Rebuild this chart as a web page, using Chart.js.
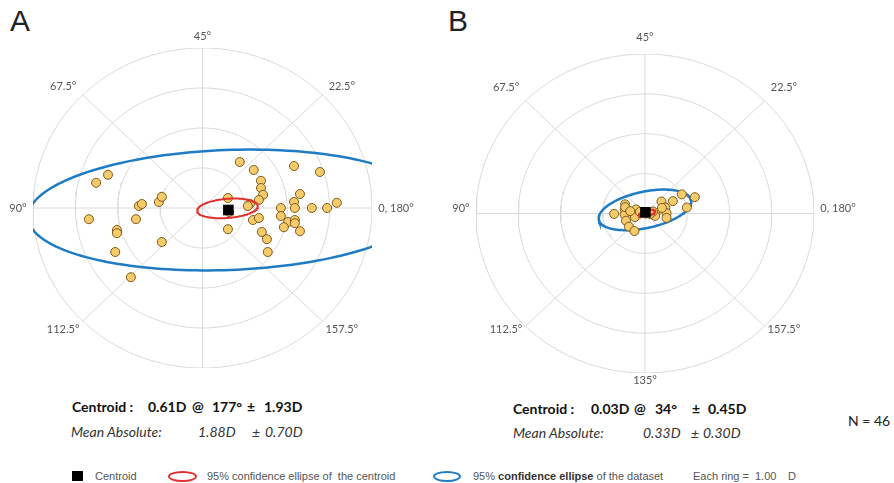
<!DOCTYPE html>
<html>
<head>
<meta charset="utf-8">
<script src="https://cdn.jsdelivr.net/npm/chart.js@4/dist/chart.umd.min.js"></script>
<style>
  body { margin: 0; background: #fff; width: 894px; height: 483px; position: relative; overflow: hidden; font-family: Lato, sans-serif; }
  canvas { position: absolute; }
  .t { position: absolute; white-space: pre; line-height: 16px; }
  .b { font-weight: bold; font-size: 14px; color: #111; }
  .i { font-style: italic; font-size: 14px; color: #333; }
  .lg { font-family: "Liberation Sans Narrow", "Liberation Sans", sans-serif; font-size: 11px; color: #555; }
  .panel { position: absolute; font-family: "Liberation Sans Narrow", sans-serif; font-size: 30px; line-height: 30px; color: #222; }
  .ell { position: absolute; border-radius: 50%; box-sizing: border-box; }
</style>
</head>
<body>
<div class="panel" style="left:10px;top:6px">A</div>
<div class="panel" style="left:448px;top:6px">B</div>
<canvas id="chartA" width="440" height="390" style="left:0;top:0"></canvas>
<canvas id="chartB" width="454" height="400" style="left:440px;top:0"></canvas>

<div class="t b" style="left:72px;top:399px">Centroid :</div>
<div class="t b" style="left:148px;top:399px">0.61D</div>
<div class="t b" style="left:192px;top:399px">@</div>
<div class="t b" style="left:212px;top:399px">177°</div>
<div class="t b" style="left:247px;top:399px">±</div>
<div class="t b" style="left:264px;top:399px">1.93D</div>
<div class="t i" style="left:71px;top:424px">Mean Absolute:</div>
<div class="t i" style="left:198px;top:424px">1.88D</div>
<div class="t i" style="left:252px;top:424px">±</div>
<div class="t i" style="left:265px;top:424px">0.70D</div>

<div class="t b" style="left:513px;top:401px">Centroid :</div>
<div class="t b" style="left:591px;top:401px">0.03D</div>
<div class="t b" style="left:634px;top:401px">@</div>
<div class="t b" style="left:655px;top:401px">34°</div>
<div class="t b" style="left:692px;top:401px">±</div>
<div class="t b" style="left:708px;top:401px">0.45D</div>
<div class="t i" style="left:513px;top:425px">Mean Absolute:</div>
<div class="t i" style="left:643px;top:425px">0.33D</div>
<div class="t i" style="left:691px;top:425px">±</div>
<div class="t i" style="left:703px;top:425px">0.30D</div>
<div class="t" style="left:848px;top:413px;font-size:14px;color:#222">N = 46</div>

<div style="position:absolute;left:72px;top:471px;width:11px;height:10px;background:#000"></div>
<div class="t lg" style="left:95px;top:468px">Centroid</div>
<div class="ell" style="left:168px;top:471px;width:29px;height:11px;border:2px solid #e0312e"></div>
<div class="t lg" style="left:207px;top:468px">95% confidence ellipse of  the centroid</div>
<div class="ell" style="left:433px;top:471px;width:28px;height:11px;border:2px solid #1f7cc4"></div>
<div class="t lg" style="left:473px;top:468px">95% <b style="color:#333">confidence ellipse</b> of the dataset</div>
<div class="t lg" style="left:693px;top:468px">Each ring =</div>
<div class="t lg" style="left:755px;top:468px">1.00</div>
<div class="t lg" style="left:788px;top:468px">D</div>

<script>
// grid: each ring = 1.00 D, spokes every 45° of the double-angle plot
const ringRadii = [1, 2, 3, 4];
const spokeAngles = [0, 45, 90, 135, 180, 225, 270, 315];
const angleLabels = ['0, 180°', '22.5°', '45°', '67.5°', '90°', '112.5°', '135°', '157.5°'];

// panel A data (D, double-angle x/y)
const pointsAx = [0.88, 1.21, 2.16, 2.77, 1.38, 1.38, 1.43, 1.33, 2.30, 2.16, 0.60, 1.12, 1.07, 1.85, 2.18, 2.58, 2.94, 3.17, 1.19, 1.33, 1.85, 2.02, 1.92, 2.18, 2.18, 2.30, 0.60, 1.40, 1.52, 1.54, -2.51, -2.23, -2.68, -1.57, -1.50, -1.43, -1.03, -0.96, -2.02, -2.02, -2.06, -0.96, -1.69, 0.63];
const pointsAy = [1.15, 0.95, 1.05, 0.90, 0.68, 0.50, 0.33, 0.20, 0.35, 0.15, 0.25, 0.10, 0.05, 0, 0, 0, 0, 0.13, -0.30, -0.25, -0.20, -0.35, -0.48, -0.30, -0.38, -0.58, -0.53, -0.60, -0.78, -1.10, 0.63, 0.83, -0.28, -0.28, 0.05, 0.10, 0.15, 0.28, -0.55, -0.63, -1.10, -0.85, -1.73, -0.10];
const centroidA = [0.61, -0.05];
// ellipse: [cx, cy, semi-major, semi-minor, tilt deg]
const centroidEllipseA = [0.59, -0.01, 0.72, 0.24, 5];
const datasetEllipseA = [0.60, -0.05, 4.72, 1.5, 2.3];

// panel B data
const pointsBx = [0.87, 1.18, 0.66, 0.39, 0.48, 0.99, 0.51, 0.51, 0.25, 0.24, 0.19, -0.21, -0.24, -0.47, -0.48, -0.48, -0.73, -0.45, -0.38, -0.25, 0.02, -0.12, 0.12, -0.47, -0.35, 0.40];
const pointsBy = [0.48, 0.41, 0.31, 0.30, 0.15, 0.15, 0.01, -0.11, 0.01, -0.06, 0.05, 0.10, -0.09, 0.23, 0.10, -0.03, -0.01, -0.18, -0.33, -0.44, 0.0, 0.04, -0.01, 0.16, 0.06, 0.14];
const centroidB = [0.01, 0.03];
const centroidEllipseB = [0.05, 0.01, 0.20, 0.07, 15];
const datasetEllipseB = [0.0, 0.09, 1.12, 0.455, 13];

const rad = d => d * Math.PI / 180;

function ellipsePts(e) {
    const [cx, cy, a, b, tilt] = e;
    const p = rad(tilt), pts = [];
    for (let k = 0; k <= 180; k++) {
        const t = k / 180 * 2 * Math.PI;
        pts.push({
            x: cx + a * Math.cos(t) * Math.cos(p) - b * Math.sin(t) * Math.sin(p),
            y: cy + a * Math.cos(t) * Math.sin(p) + b * Math.sin(t) * Math.cos(p)
        });
    }
    return pts;
}

function gridSets() {
    const sets = [];
    ringRadii.forEach(r => sets.push({ type: 'scatter', data: ellipsePts([0, 0, r, r, 0]), showLine: true, pointRadius: 0, borderColor: '#d9d9d9', borderWidth: 1, order: 10 }));
    const outer = ringRadii[ringRadii.length - 1];
    spokeAngles.forEach(a => sets.push({ type: 'scatter', data: [{ x: 0, y: 0 }, { x: outer * Math.cos(rad(a)), y: outer * Math.sin(rad(a)) }], showLine: true, pointRadius: 0, borderColor: '#d9d9d9', borderWidth: 1, order: 10 }));
    return sets;
}

const angleLabelPlugin = {
    id: 'angleLabels',
    afterDraw(chart, args, opts) {
        const { ctx, scales: { x, y } } = chart;
        ctx.save();
        ctx.font = '11px Lato';
        ctx.fillStyle = '#555';
        ctx.textBaseline = 'middle';
        spokeAngles.forEach((deg, i) => {
            if (opts.skip && opts.skip.includes(i)) return;
            const c = Math.cos(rad(deg)), s = Math.sin(rad(deg));
            let lx, ly, align = 'center';
            if (Math.abs(s) < 0.01) { lx = 4.15 * Math.sign(c); ly = 0; align = c > 0 ? 'left' : 'right'; }
            else if (Math.abs(c) < 0.01) { lx = 0; ly = 4.3 * Math.sign(s); }
            else { lx = 4.65 * c; ly = 4.3 * s; }
            ctx.textAlign = align;
            ctx.fillText(angleLabels[i], x.getPixelForValue(lx), y.getPixelForValue(ly) + (opts.shift || 0));
        });
        ctx.restore();
    }
};

function makeChart(id, xs, ys, cen, redE, blueE, padding, labelOpts) {
    const pts = xs.map((v, i) => ({ x: v, y: ys[i] }));
    const datasets = [
        { type: 'scatter', data: [{ x: cen[0], y: cen[1] }], pointStyle: 'rect', pointRadius: 7.5, backgroundColor: '#000', borderColor: '#000', borderWidth: 0, order: 1, clip: false },
        { type: 'scatter', data: ellipsePts(redE), showLine: true, pointRadius: 0, borderColor: '#e0312e', borderWidth: 2, order: 2 },
        { type: 'scatter', data: pts, pointRadius: 4.5, backgroundColor: '#f7ca6a', borderColor: '#7d5a1c', borderWidth: 1, order: 3, clip: false },
        { type: 'scatter', data: ellipsePts(blueE), showLine: true, pointRadius: 0, borderColor: '#1f7cc4', borderWidth: 2.5, order: 4 },
        ...gridSets()
    ];
    return new Chart(document.getElementById(id), {
        type: 'scatter',
        data: { datasets },
        options: {
            responsive: false,
            animation: false,
            events: [],
            layout: { padding },
            scales: {
                x: { type: 'linear', min: -4, max: 4, display: false },
                y: { type: 'linear', min: -4, max: 4, display: false }
            },
            plugins: { legend: { display: false }, tooltip: { enabled: false }, angleLabels: labelOpts }
        },
        plugins: [angleLabelPlugin]
    });
}

makeChart('chartA', pointsAx, pointsAy, centroidA, centroidEllipseA, datasetEllipseA,
    { left: 33, right: 68, top: 48, bottom: 22 }, { skip: [6], shift: 0 });
makeChart('chartB', pointsBx, pointsBy, centroidB, centroidEllipseB, datasetEllipseB,
    { left: 36, right: 80, top: 54, bottom: 27 }, { skip: [], shift: -5 });
</script>
</body>
</html>
